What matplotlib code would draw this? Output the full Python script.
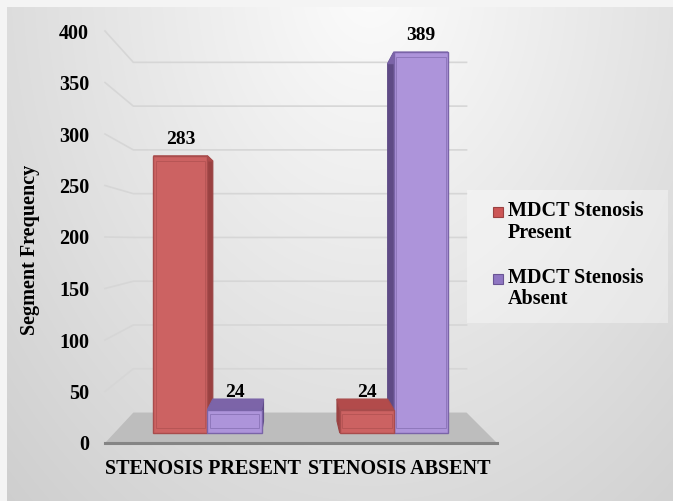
import numpy as np
import matplotlib
matplotlib.use("Agg")
import matplotlib.pyplot as plt
from matplotlib.patches import Polygon, Rectangle

# ---- data ----
categories = ["STENOSIS PRESENT", "STENOSIS ABSENT"]
series_names = ["MDCT Stenosis\nPresent", "MDCT Stenosis\nAbsent"]
mdct_present = [283, 24]
mdct_absent = [24, 389]
y_ticks = [0, 50, 100, 150, 200, 250, 300, 350, 400]

plt.rcParams["font.family"] = ["Liberation Serif", "DejaVu Serif"]
plt.rcParams["font.weight"] = "bold"

W, H = 673, 501
fig = plt.figure(figsize=(W / 100, H / 100), dpi=100)
fig.patch.set_facecolor("#f4f4f4")

# ---- radial grey background of the chart area ----
bg = fig.add_axes([7 / W, 0, (W - 7) / W, (H - 7) / H], zorder=0)
gx, gy = np.meshgrid(np.arange(7, W), np.arange(7, H))
r = np.sqrt(((gx - 370) / 440.0) ** 2 + ((gy + 20) / 600.0) ** 2)
shade = np.clip(252 - 38 * r, 192, 252) / 255.0
bg.imshow(np.dstack([shade] * 3), aspect="auto", interpolation="bilinear")
bg.axis("off")

# ---- main axes: front plane of the 3-D box ----
x0_px, x1_px = 105, 497
y0_px, y1_px = 443, 31
ax = fig.add_axes([x0_px / W, (H - y0_px) / H, (x1_px - x0_px) / W,
                   (y0_px - y1_px) / H], zorder=1)
ax.set_xlim(-0.5, 1.5)
ax.set_ylim(0, 400)
ax.patch.set_alpha(0)
for s in ax.spines.values():
    s.set_visible(False)

# perspective: points recede toward a vanishing point as depth z goes 0 -> 1
vx = -0.5 + (294 - x0_px) / (x1_px - x0_px) * 2.0
vy = (y0_px - 240) / (y0_px - y1_px) * 400.0
depth_k = 0.15


def proj(x, v, z):
    k = depth_k * z
    return (x + k * (vx - x), v + k * (vy - v))


def face(pts, **kw):
    ax.add_patch(Polygon(pts, closed=True, clip_on=False, **kw))


# gridlines: left wall diagonal + back wall
for t in y_ticks[1:]:
    a = proj(-0.5, t, 0)
    b = proj(-0.5, t, 1)
    c = proj(1.5, t, 1)
    ax.plot([a[0], b[0], c[0]], [a[1], b[1], c[1]], color="#d6d6d6",
            lw=1.2, clip_on=False, zorder=1)

# floor
floor = [proj(-0.5, 0, 0), proj(1.5, 0, 0), proj(1.5, 0, 1), proj(-0.5, 0, 1)]
face(floor, facecolor="#bdbdbd", edgecolor="none", zorder=2)
ax.plot([-0.5, 1.5], [0, 0], color="#858585", lw=2.2, clip_on=False, zorder=2.1)

# bars
bar_w = 0.29
z_front, z_back = 0.327, 0.72
styles = [
    dict(front="#cc6262", side="#9a4141", top="#b24b4b", edge="#a84c4c"),
    dict(front="#ad94da", side="#5f4b86", top="#7c64a8", edge="#7a64a8"),
]
bars = []
for i in range(len(categories)):
    bars.append((i - bar_w, mdct_present[i], styles[0]))
    bars.append((i, mdct_absent[i], styles[1]))

# paint bars farthest from the vanishing point first
bars.sort(key=lambda b: -abs(b[0] + bar_w / 2 - vx))
zo = 3
for xl, val, st in bars:
    xr = xl + bar_w
    # side face facing the vanishing point
    xs = xr if xr < vx else xl
    side = [proj(xs, 0, z_front), proj(xs, val, z_front),
            proj(xs, val, z_back), proj(xs, 0, z_back)]
    face(side, facecolor=st["side"], edgecolor=st["side"], lw=0.8, zorder=zo)
    top = [proj(xl, val, z_front), proj(xr, val, z_front),
           proj(xr, val, z_back), proj(xl, val, z_back)]
    face(top, facecolor=st["top"], edgecolor=st["edge"], lw=0.8, zorder=zo + 0.1)
    front = [proj(xl, 0, z_front), proj(xr, 0, z_front),
             proj(xr, val, z_front), proj(xl, val, z_front)]
    face(front, facecolor=st["front"], edgecolor=st["edge"], lw=1.0,
         zorder=zo + 0.2)
    # bevel highlight inside the front face
    ix, iy = 0.012, 5.0
    inner = [proj(xl + ix, iy, z_front), proj(xr - ix, iy, z_front),
             proj(xr - ix, val - iy, z_front), proj(xl + ix, val - iy, z_front)]
    if val > 2 * iy:
        face(inner, facecolor="none", edgecolor=st["edge"], lw=0.7, alpha=0.6,
             zorder=zo + 0.3)
    # value label
    lx, ly = proj(xl + bar_w / 2, val, z_front)
    ax.annotate(str(val), (lx, ly), xytext=(0, 12), textcoords="offset points",
                ha="center", va="center", fontsize=14, fontweight="bold",
                color="black", zorder=10, annotation_clip=False)
    zo += 1

# axes ticks
ax.set_yticks(y_ticks)
ax.set_yticklabels([str(t) for t in y_ticks], fontsize=14.5, fontweight="bold")
ax.set_xticks(range(len(categories)))
ax.set_xticklabels(categories, fontsize=14.5, fontweight="bold")
ax.tick_params(axis="y", length=0, pad=11.5)
ax.tick_params(axis="x", length=0, pad=11.5)

fig.text(30 / W, 1 - 250 / H, "Segment Frequency", rotation=90, ha="center",
         va="center", fontsize=14.5, fontweight="bold")

# legend panel
lg = fig.add_axes([0, 0, 1, 1], zorder=2)
lg.set_xlim(0, W)
lg.set_ylim(H, 0)
lg.axis("off")
lg.add_patch(Rectangle((467, 190), 201, 133, facecolor="white", alpha=0.35,
                       edgecolor="none"))
leg_colors = ["#cc5656", "#8f76c2"]
leg_edges = ["#9a4141", "#6a5494"]
for j, (name, col, ec) in enumerate(zip(series_names, leg_colors, leg_edges)):
    yc = 212 + j * 67
    lg.add_patch(Rectangle((493, yc - 5), 10, 10, facecolor=col, edgecolor=ec,
                           lw=0.8))
    lg.text(508, yc - 11, name, ha="left", va="top", fontsize=14.5,
            fontweight="bold", linespacing=1.1)

fig.savefig("out.png", dpi=100)
